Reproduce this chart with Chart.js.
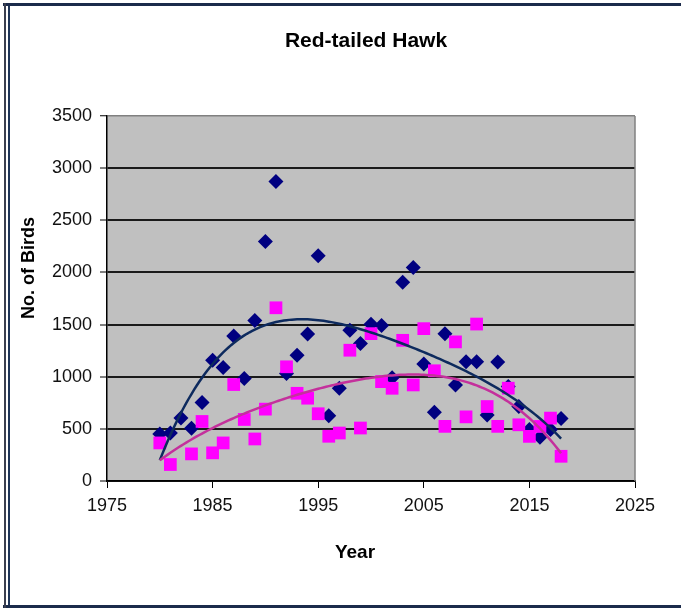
<!DOCTYPE html>
<html><head><meta charset="utf-8">
<script src="https://cdn.jsdelivr.net/npm/chart.js@4.4.1/dist/chart.umd.min.js"></script>
<style>html,body{margin:0;padding:0;background:#fff;overflow:hidden}#wrap{position:relative;width:681px;height:609px}</style>
</head><body><div id="wrap"><canvas id="c" width="681" height="609"></canvas></div>
<script>
// ---- data ----
const yearsA = [1980,1981,1982,1983,1984,1985,1986,1987,1988,1989,1990,1991,1992,1993,1994,1995,1996,1997,1998,1999,2000,2001,2002,2003,2004,2005,2006,2007,2008,2009,2010,2011,2012,2013,2014,2015,2016,2017,2018];
const countsA = [450,460,603,505,752,1159,1089,1391,984,1540,2296,2873,1030,1206,1410,2159,625,889,1445,1318,1502,1492,990,1905,2048,1121,660,1413,921,1143,1143,634,1140,905,714,495,420,495,600];
const yearsB = [1980,1981,1983,1984,1985,1986,1987,1988,1989,1990,1991,1992,1993,1994,1995,1996,1997,1998,1999,2000,2001,2002,2003,2004,2005,2006,2007,2008,2009,2010,2011,2012,2013,2014,2015,2016,2017,2018];
const countsB = [365,158,260,571,270,365,925,590,403,689,1661,1095,841,794,645,429,460,1254,508,1413,953,889,1349,921,1461,1057,524,1334,615,1505,714,524,890,539,428,523,603,237];
const xTickValues = [1975,1985,1995,2005,2015,2025];
const yTickValues = [0,500,1000,1500,2000,2500,3000,3500];
const chartTitle = 'Red-tailed Hawk';
const xTitle = 'Year';
const yTitle = 'No. of Birds';
const trendOrder = 4;

// least-squares polynomial trendline, computed from the data
function polyFit(xs, ys, deg){
  const n = deg+1, A = [], b = [];
  for(let i=0;i<n;i++){A.push(new Array(n).fill(0)); b.push(0);}
  xs.forEach((x0,k)=>{
    const x=(x0-2000)/10;
    for(let i=0;i<n;i++){
      b[i]+=ys[k]*Math.pow(x,i);
      for(let j=0;j<n;j++) A[i][j]+=Math.pow(x,i+j);
    }
  });
  for(let c=0;c<n;c++){
    let p=c; for(let r=c+1;r<n;r++) if(Math.abs(A[r][c])>Math.abs(A[p][c])) p=r;
    [A[c],A[p]]=[A[p],A[c]]; [b[c],b[p]]=[b[p],b[c]];
    for(let r=c+1;r<n;r++){const f=A[r][c]/A[c][c]; for(let j=c;j<n;j++) A[r][j]-=f*A[c][j]; b[r]-=f*b[c];}
  }
  const co=new Array(n).fill(0);
  for(let i=n-1;i>=0;i--){let s=b[i]; for(let j=i+1;j<n;j++) s-=A[i][j]*co[j]; co[i]=s/A[i][i];}
  return x0=>{const x=(x0-2000)/10; let s=0; for(let i=n-1;i>=0;i--) s=s*x+co[i]; return s;};
}
function trend(xs, ys){
  const f=polyFit(xs,ys,trendOrder), out=[];
  const lo=Math.min(...xs), hi=Math.max(...xs);
  for(let x=lo;x<=hi+1e-9;x+=0.25) out.push({x:x,y:f(x)});
  return out;
}

const ptsA = yearsA.map((y,i)=>({x:y,y:countsA[i]}));
const ptsB = yearsB.map((y,i)=>({x:y,y:countsB[i]}));

const FONT = "'Liberation Sans',Arial,sans-serif";

const bgPlugin = {
  id:'bg',
  beforeDraw(chart){
    const {ctx, chartArea:a} = chart;
    ctx.save(); ctx.fillStyle='#fff'; ctx.fillRect(0,0,chart.width,chart.height);
    ctx.fillStyle='#C0C0C0'; ctx.fillRect(a.left,a.top,a.right-a.left,a.bottom-a.top);
    ctx.restore();
  },
  beforeDatasetsDraw(chart){
    const {ctx, chartArea:a} = chart;
    ctx.save(); ctx.strokeStyle='#808080'; ctx.lineWidth=1.5;
    ctx.beginPath(); ctx.moveTo(a.right,a.top); ctx.lineTo(a.right,a.bottom); ctx.stroke();
    ctx.restore();
  },
  afterDraw(chart){
    const ctx=chart.ctx; ctx.save();
    // titles
    ctx.fillStyle='#000'; ctx.textAlign='center'; ctx.textBaseline='middle';
    ctx.font="bold 21px "+FONT; ctx.fillText(chartTitle,366,41);
    ctx.font="bold 19px "+FONT; ctx.fillText(xTitle,355,553);
    ctx.save(); ctx.translate(29,268); ctx.rotate(-Math.PI/2);
    ctx.font="bold 18px "+FONT; ctx.fillText(yTitle,0,0); ctx.restore();
    // frame
    ctx.fillStyle='#1B2B4B';
    ctx.fillRect(3,3,678,3);
    ctx.fillRect(3,605,678,3);
    ctx.fillStyle='#3A3F4F'; ctx.fillRect(4,3,2,605);
    ctx.fillStyle='#1F3558'; ctx.fillRect(8,6,2,599);
    ctx.restore();
  }
};

new Chart(document.getElementById('c'), {
  type:'scatter',
  data:{datasets:[
    {label:'trendB', type:'line', data:trend(yearsB,countsB), borderColor:'#C4309C', borderWidth:2.5, pointRadius:0, fill:false, order:0, tension:0},
    {label:'trendA', type:'line', data:trend(yearsA,countsA), borderColor:'#0D2A5E', borderWidth:2.5, pointRadius:0, fill:false, order:1, tension:0},
    {label:'B', data:ptsB, pointStyle:'rect', pointRadius:9, backgroundColor:'#FF00FF', borderColor:'#FF00FF', borderWidth:0, order:2},
    {label:'A', data:ptsA, pointStyle:'rectRot', pointRadius:7.5, backgroundColor:'#000080', borderColor:'#000080', borderWidth:0, order:3}
  ]},
  options:{
    responsive:false, devicePixelRatio:1, animation:false,
    layout:{padding:{left:0,right:46,top:116,bottom:0}},
    plugins:{ legend:{display:false}, tooltip:{enabled:false}, title:{display:false} },
    scales:{
      x:{type:'linear', min:1975, max:2025,
        afterBuildTicks(s){s.ticks=xTickValues.map(v=>({value:v}));},
        afterFit(s){s.height=128;},
        ticks:{callback:v=>String(v), color:'#111', font:{family:FONT,size:18}, padding:7, maxRotation:0},
        grid:{drawOnChartArea:false, drawTicks:true, tickLength:7, tickColor:'#000', tickWidth:1},
        border:{display:true,color:'#000',width:1.5}
      },
      y:{type:'linear', min:0, max:3500,
        afterBuildTicks(s){s.ticks=yTickValues.map(v=>({value:v}));},
        afterFit(s){s.width=107;},
        ticks:{callback:v=>String(v), color:'#111', font:{family:FONT,size:18}, padding:8},
        grid:{drawOnChartArea:true, drawTicks:true, tickLength:7, tickColor:'#000', tickWidth:1,
          color:c=>(c.tick && c.tick.value===3500)?'#808080':'#1A1A1A',
          lineWidth:c=>(c.tick && c.tick.value===3500)?1.5:2},
        border:{display:true,color:'#000',width:1.5}
      }
    }
  },
  plugins:[bgPlugin]
});
</script></body></html>
